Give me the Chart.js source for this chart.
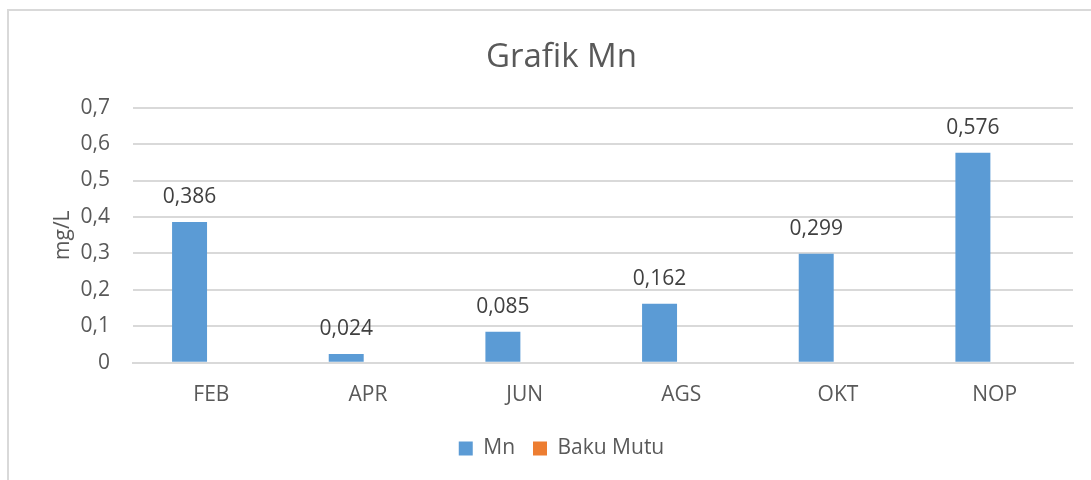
<!DOCTYPE html>
<html>
<head>
<meta charset="utf-8">
<script src="https://cdn.jsdelivr.net/npm/chart.js@4"></script>
<style>
  html, body { margin: 0; padding: 0; background: #fff; }
  #wrap { position: absolute; left: 7px; top: 9px; width: 1091px; height: 480px; border: 2px solid #d9d9d9; box-sizing: border-box; }
  #holder { position: absolute; left: 0; top: 0; width: 1091px; height: 480px; }
</style>
</head>
<body>
<div id="wrap"></div>
<div id="holder"><canvas id="ChartMn"></canvas></div>
<script>
const months = ['FEB', 'APR', 'JUN', 'AGS', 'OKT', 'NOP'];
const mnValues = [0.386, 0.024, 0.085, 0.162, 0.299, 0.576];
const bakuMutuValues = [null, null, null, null, null, null];
const yTicks = [0, 0.1, 0.2, 0.3, 0.4, 0.5, 0.6, 0.7];

const fmt = (v) => String(v).replace('.', ',');

// value labels above the Mn bars
const barLabels = {
  id: 'barLabels',
  afterDatasetsDraw(chart) {
    const ctx = chart.ctx;
    const meta = chart.getDatasetMeta(0);
    ctx.save();
    ctx.font = '21px "Open Sans"';
    ctx.fillStyle = '#404040';
    ctx.textAlign = 'center';
    ctx.textBaseline = 'middle';
    meta.data.forEach((bar, i) => {
      ctx.fillText(fmt(mnValues[i]), bar.x, bar.y - 25);
    });
    ctx.restore();
  }
};

Chart.defaults.font.family = '"Open Sans"';
Chart.defaults.color = '#595959';

new Chart(document.getElementById('ChartMn').getContext('2d'), {
  type: 'bar',
  data: {
    labels: months,
    datasets: [{
      label: 'Mn',
      data: mnValues,
      backgroundColor: '#5b9bd5',
    },
    {
      label: 'Baku Mutu',
      data: bakuMutuValues,
      backgroundColor: '#ed7d31',
    }],
  },
  options: {
    responsive: true,
    maintainAspectRatio: false,
    animation: false,
    barPercentage: 0.803,
    categoryPercentage: 0.556,
    layout: {
      padding: { left: 50, right: 18, top: 38, bottom: 11 },
    },
    plugins: {
      title: {
        display: true,
        text: 'Grafik Mn',
        color: '#595959',
        font: { size: 33, weight: 'normal' },
        padding: { top: 0, bottom: 30 },
      },
      legend: {
        position: 'bottom',
        labels: {
          boxWidth: 14,
          boxHeight: 14,
          font: { size: 21 },
          color: '#595959',
          padding: 18,
        },
      },
      tooltip: { enabled: false },
    },
    scales: {
      x: {
        grid: { display: false },
        border: { color: '#d9d9d9', width: 2 },
        ticks: { font: { size: 21 }, color: '#595959', padding: 12 },
      },
      y: {
        min: 0,
        max: 0.7,
        afterFit: (scale) => { scale.width = 83; },
        afterBuildTicks: (scale) => { scale.ticks = yTicks.map(v => ({ value: v })); },
        title: {
          display: true,
          text: 'mg/L',
          color: '#595959',
          font: { size: 21 },
          padding: 0,
        },
        grid: { color: '#d9d9d9', lineWidth: 2, tickLength: 0, drawTicks: false },
        border: { display: false },
        ticks: {
          font: { size: 21 },
          color: '#595959',
          padding: 23,
          callback: (v) => fmt(Math.round(v * 10) / 10),
        },
      },
    },
  },
  plugins: [barLabels],
});
</script>
</body>
</html>
